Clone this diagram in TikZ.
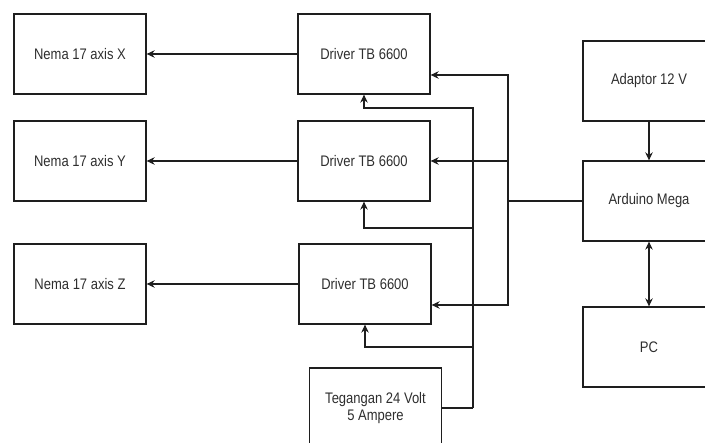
\documentclass[tikz,border=0pt]{standalone}
\usepackage{fontspec}
\setmainfont{Liberation Sans}
\newfontfamily\labfont[FakeStretch=0.85]{Liberation Sans}
\usetikzlibrary{arrows.meta}
\definecolor{ln}{HTML}{1E1E1E}
\definecolor{tx}{HTML}{2E2E2E}
\begin{document}
\begin{tikzpicture}[x=1pt,y=-1pt,
  blk/.style={draw=ln,line width=1.3pt,minimum width=132pt,minimum height=80pt,inner sep=0pt,
    font=\labfont\fontsize{15.3}{17.5}\selectfont,text=tx,align=center},
  con/.style={draw=ln,line width=1.2pt},
  arr/.style={con,-{Stealth[length=8pt,width=7.5pt]}},
  darr/.style={con,{Stealth[length=8pt,width=7.5pt]}-{Stealth[length=8pt,width=7.5pt]}}]
\clip (0,0) rectangle (705,443);
\useasboundingbox (0,0) rectangle (705,443);
\node[blk] (nx) at (80,54) {Nema 17 axis X};
\node[blk] (ny) at (80,161) {Nema 17 axis Y};
\node[blk] (nz) at (80,284) {Nema 17 axis Z};
\node[blk] (d1) at (364,54) {Driver TB 6600};
\node[blk] (d2) at (364,161) {Driver TB 6600};
\node[blk] (d3) at (365,284) {Driver TB 6600};
\node[blk] (tg) at (375.5,408) {Tegangan 24 Volt\\5 Ampere};
\node[blk] (ad) at (649,81) {Adaptor 12 V};
\node[blk] (ar) at (649,201) {Arduino Mega};
\node[blk] (pc) at (649,347) {PC};
\coordinate (sj) at (508,201);
\coordinate (pj) at (473,408);
% driver to motors
\draw[arr] (d1) -- (nx);
\draw[arr] (d2) -- (ny);
\draw[arr] (d3) -- (nz);
% arduino signals
\draw[con] (ar.west) -- (sj);
\draw[arr] (sj) |- ([yshift=-21pt]d1.east);
\draw[arr] (sj) |- (d2.east);
\draw[arr] (sj) |- ([yshift=-21pt]d3.east);
% power
\draw[con] (tg.east) -- (pj);
\draw[arr] (pj) |- (473,108) -| (d1.south);
\draw[arr] (pj) |- (473,228) -| (d2.south);
\draw[arr] (pj) |- (473,347) -| (d3.south);
% right column
\draw[arr] (ad) -- (ar);
\draw[darr] (ar) -- (pc);
\end{tikzpicture}
\end{document}
